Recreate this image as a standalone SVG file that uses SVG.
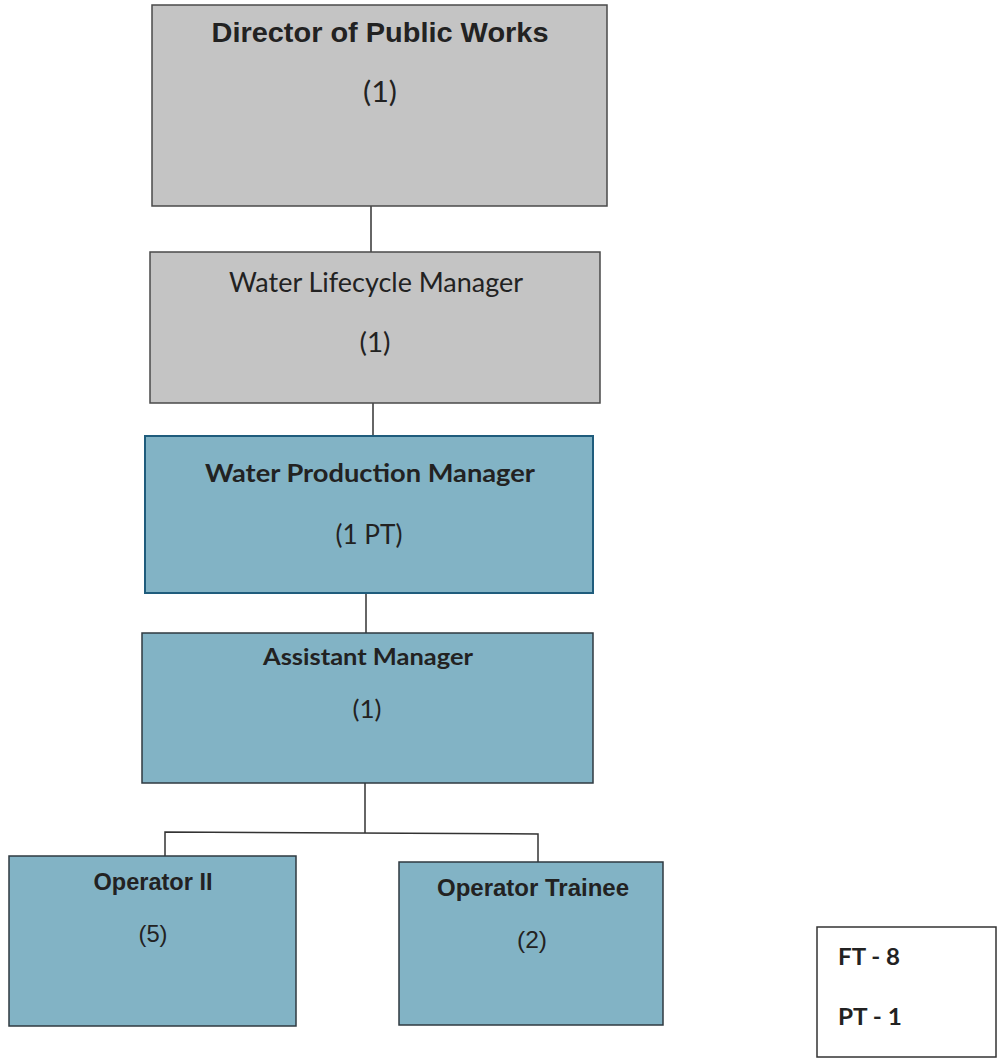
<svg xmlns="http://www.w3.org/2000/svg" width="1000" height="1059" viewBox="0 0 1000 1059">
<style>
.gray{fill:#c4c4c4;stroke:#4a4a4a;stroke-width:1.5}
.blue{fill:#82b3c5;stroke:#2f3a40;stroke-width:1.5}
.blue2{fill:#82b3c5;stroke:#1f5c7c;stroke-width:2}
.legend{fill:#ffffff;stroke:#333;stroke-width:1.5}
.arial{font-family:"Liberation Sans",Arial,sans-serif;fill:#222}
.cal{font-family:Lato,"Open Sans",sans-serif;fill:#222}
.b{font-weight:bold}
.conn{stroke:#333;stroke-width:1.5;fill:none}
</style>
<rect width="1000" height="1059" fill="#ffffff"/>
<g id="connectors">
<line class="conn" x1="371" y1="206" x2="371" y2="252"/>
<line class="conn" x1="373" y1="403" x2="373" y2="436"/>
<line class="conn" x1="366" y1="593" x2="366" y2="633"/>
<polyline class="conn" points="365,783 365,833"/>
<polyline class="conn" points="165,856 165,832 538,834 538,862"/>
</g>
<g id="director">
<rect class="gray" x="152" y="5" width="455" height="201"/>
<text class="arial b" x="380" y="42" font-size="28" text-anchor="middle" textLength="337" lengthAdjust="spacingAndGlyphs">Director of Public Works</text>
<text class="cal" x="380" y="102" font-size="28" text-anchor="middle" textLength="34" lengthAdjust="spacingAndGlyphs">(1)</text>
</g>
<g id="lifecycle">
<rect class="gray" x="150" y="252" width="450" height="151"/>
<text class="cal" x="376" y="292" font-size="26" text-anchor="middle" textLength="294" lengthAdjust="spacingAndGlyphs">Water Lifecycle Manager</text>
<text class="cal" x="375" y="352" font-size="27" text-anchor="middle" textLength="31" lengthAdjust="spacingAndGlyphs">(1)</text>
</g>
<g id="production">
<rect class="blue2" x="145" y="436" width="448" height="157"/>
<text class="cal b" x="370" y="482" font-size="25" text-anchor="middle" textLength="330" lengthAdjust="spacingAndGlyphs">Water Production Manager</text>
<text class="cal" x="369" y="544" font-size="26" text-anchor="middle" textLength="67" lengthAdjust="spacingAndGlyphs">(1 PT)</text>
</g>
<g id="assistant">
<rect class="blue" x="142" y="633" width="451" height="150"/>
<text class="cal b" x="368" y="665" font-size="22" text-anchor="middle" textLength="210" lengthAdjust="spacingAndGlyphs">Assistant Manager</text>
<text class="cal" x="367" y="718" font-size="25" text-anchor="middle" textLength="29" lengthAdjust="spacingAndGlyphs">(1)</text>
</g>
<g id="operator2">
<rect class="blue" x="9" y="856" width="287" height="170"/>
<text class="arial b" x="153" y="890" font-size="24" text-anchor="middle" textLength="119" lengthAdjust="spacingAndGlyphs">Operator II</text>
<text class="arial" x="153" y="942" font-size="24" text-anchor="middle" textLength="29" lengthAdjust="spacingAndGlyphs">(5)</text>
</g>
<g id="trainee">
<rect class="blue" x="399" y="862" width="264" height="163"/>
<text class="arial b" x="533" y="896" font-size="24" text-anchor="middle" textLength="192" lengthAdjust="spacingAndGlyphs">Operator Trainee</text>
<text class="arial" x="532" y="948" font-size="24" text-anchor="middle" textLength="30" lengthAdjust="spacingAndGlyphs">(2)</text>
</g>
<g id="legend">
<rect class="legend" x="817" y="927" width="179" height="130"/>
<text class="cal b" x="838" y="965" font-size="23" textLength="62" lengthAdjust="spacingAndGlyphs">FT - 8</text>
<text class="cal b" x="838" y="1025" font-size="23" textLength="64" lengthAdjust="spacingAndGlyphs">PT - 1</text>
</g>
</svg>
